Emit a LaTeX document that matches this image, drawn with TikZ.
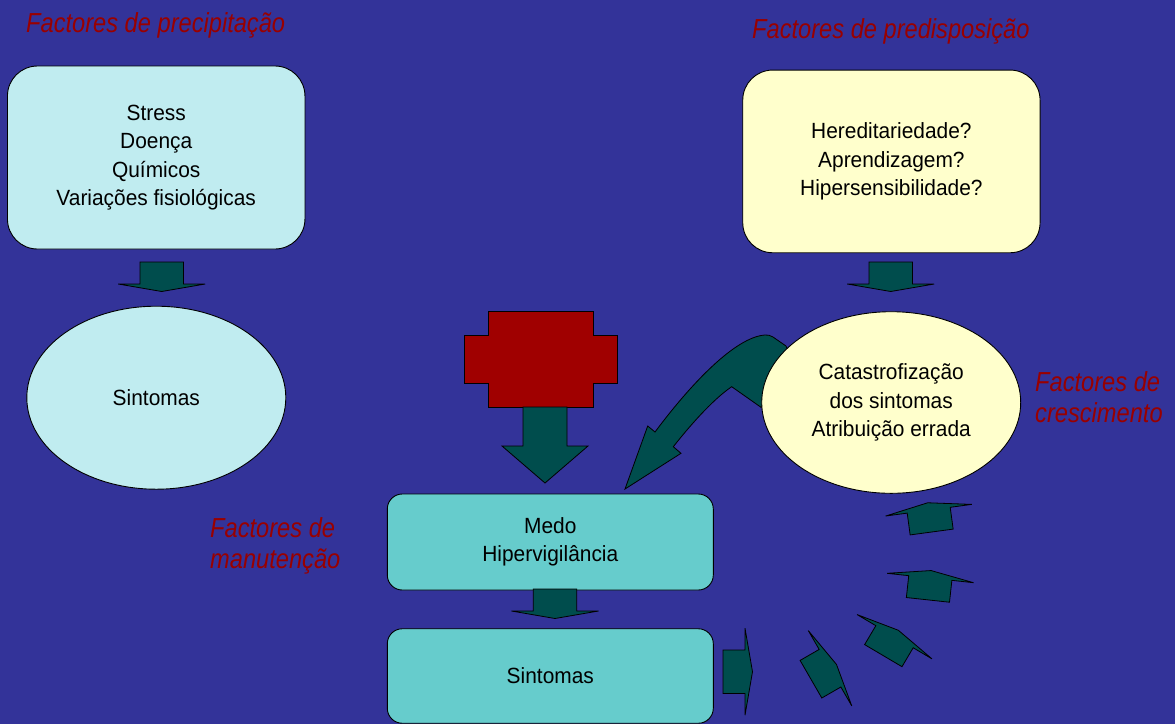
\documentclass[tikz,border=0pt]{standalone}
\usepackage{fontspec}
\setmainfont{Liberation Sans}
\newfontfamily\bodyfont[FakeStretch=0.95]{Liberation Sans}
\newfontfamily\labelfont[FakeStretch=0.86]{Liberation Sans}
\usetikzlibrary{shapes.geometric}
\definecolor{bg}{RGB}{51,51,153}
\definecolor{paleblue}{RGB}{192,236,240}
\definecolor{paleyellow}{RGB}{255,255,204}
\definecolor{tealbox}{RGB}{102,204,204}
\definecolor{darkgreen}{RGB}{0,77,77}
\definecolor{crossred}{RGB}{160,0,0}
\definecolor{labelred}{RGB}{153,0,0}
\begin{document}
\begin{tikzpicture}[x=1pt,y=-1pt,
  bigbox/.style={draw=black, line width=0.9pt, rounded corners=30pt,
    minimum width=297.5pt, minimum height=183pt, inner sep=0pt, align=center,
    font=\bodyfont\fontsize{22}{28.5}\selectfont},
  smallbox/.style={bigbox, rounded corners=15pt, minimum width=326pt, minimum height=96pt, fill=tealbox},
  oval/.style={ellipse, draw=black, line width=0.9pt, inner sep=0pt, align=center,
    minimum width=259pt, minimum height=183pt, font=\bodyfont\fontsize{22}{28.5}\selectfont},
  factorlabel/.style={anchor=north west, inner sep=0pt, align=left, text=labelred,
    font=\labelfont\itshape\fontsize{27.5}{31}\selectfont},
  arrowstyle/.style={fill=darkgreen, draw=black, line width=0.8pt, line join=miter},
  blockarr/.pic={\draw[arrowstyle] (-22,-21.7) -- (0,-21.7) -- (0,-43.5) -- (7.5,0)
    -- (0,43.5) -- (0,21.7) -- (-22,21.7) -- cycle;}
]
\useasboundingbox (0,0) rectangle (1175,724);
\fill[bg] (0,0) rectangle (1175,724);

% curved arrow (behind the ellipse)
\draw[arrowstyle] (786,346) -- (773,337) .. controls (770,335) and (768,335) .. (765,335)
  .. controls (735,337) and (690,385) .. (655,432) -- (647.7,426) -- (625,489)
  -- (681,453.3) -- (673.3,446.7) .. controls (688,428) and (712,400) .. (731.7,386.7)
  -- (761,407.3) -- (800,380) -- cycle;

% boxes
\node[bigbox, fill=paleblue] (prec) at (156.2,157.5)
  {Stress\\Doença\\Químicos\\Variações fisiológicas};
\node[bigbox, fill=paleyellow, minimum width=297.3pt, minimum height=182.7pt] (pred) at (891.4,161.4)
  {Hereditariedade?\\Aprendizagem?\\Hipersensibilidade?};
\node[oval, fill=paleblue] (sint1) at (156.3,397.7) {Sintomas};
\node[oval, fill=paleyellow, minimum height=181.6pt] (cat) at (891.2,402.5)
  {Catastrofização\\dos sintomas\\Atribuição errada};
\node[smallbox] (medo) at (550.3,542) {Medo\\Hipervigilância};
\node[smallbox, minimum height=94.5pt] (sint2) at (550.3,676) {Sintomas};

% red cross
\draw[fill=crossred, line width=0.9pt, line join=miter] (488,311) -- (593,311) -- (593,335) -- (617,335)
  -- (617,383) -- (593,383) -- (593,407) -- (488,407) -- (488,383) -- (464,383)
  -- (464,335) -- (488,335) -- cycle;
% big down arrow
\draw[arrowstyle] (523,407) -- (567,407) -- (567,446) -- (588,446) -- (545,483)
  -- (502,446) -- (523,446) -- cycle;

% small block arrows
\pic[rotate=-90] at (161.7,284) {blockarr};
\pic[rotate=-90] at (890.7,284) {blockarr};
\pic[rotate=-90] at (555,611) {blockarr};
\pic at (745,671.7) {blockarr};
\pic[rotate=30] at (830,668.2) {blockarr};
\pic[rotate=59.4] at (894.5,636.7) {blockarr};
\pic[rotate=83.8] at (930.3,578) {blockarr};
\pic[rotate=97.7] at (928.7,510.2) {blockarr};

% labels
\node[factorlabel] (lprec) at (26,12.3) {Factores de precipitação};
\node[factorlabel] (lpred) at (752,18.3) {Factores de predisposição};
\node[factorlabel] (lcres) at (1035,371.7) {Factores de\\crescimento};
\node[factorlabel] (lmanu) at (210,517) {Factores de\\manutenção};
\end{tikzpicture}
\end{document}
